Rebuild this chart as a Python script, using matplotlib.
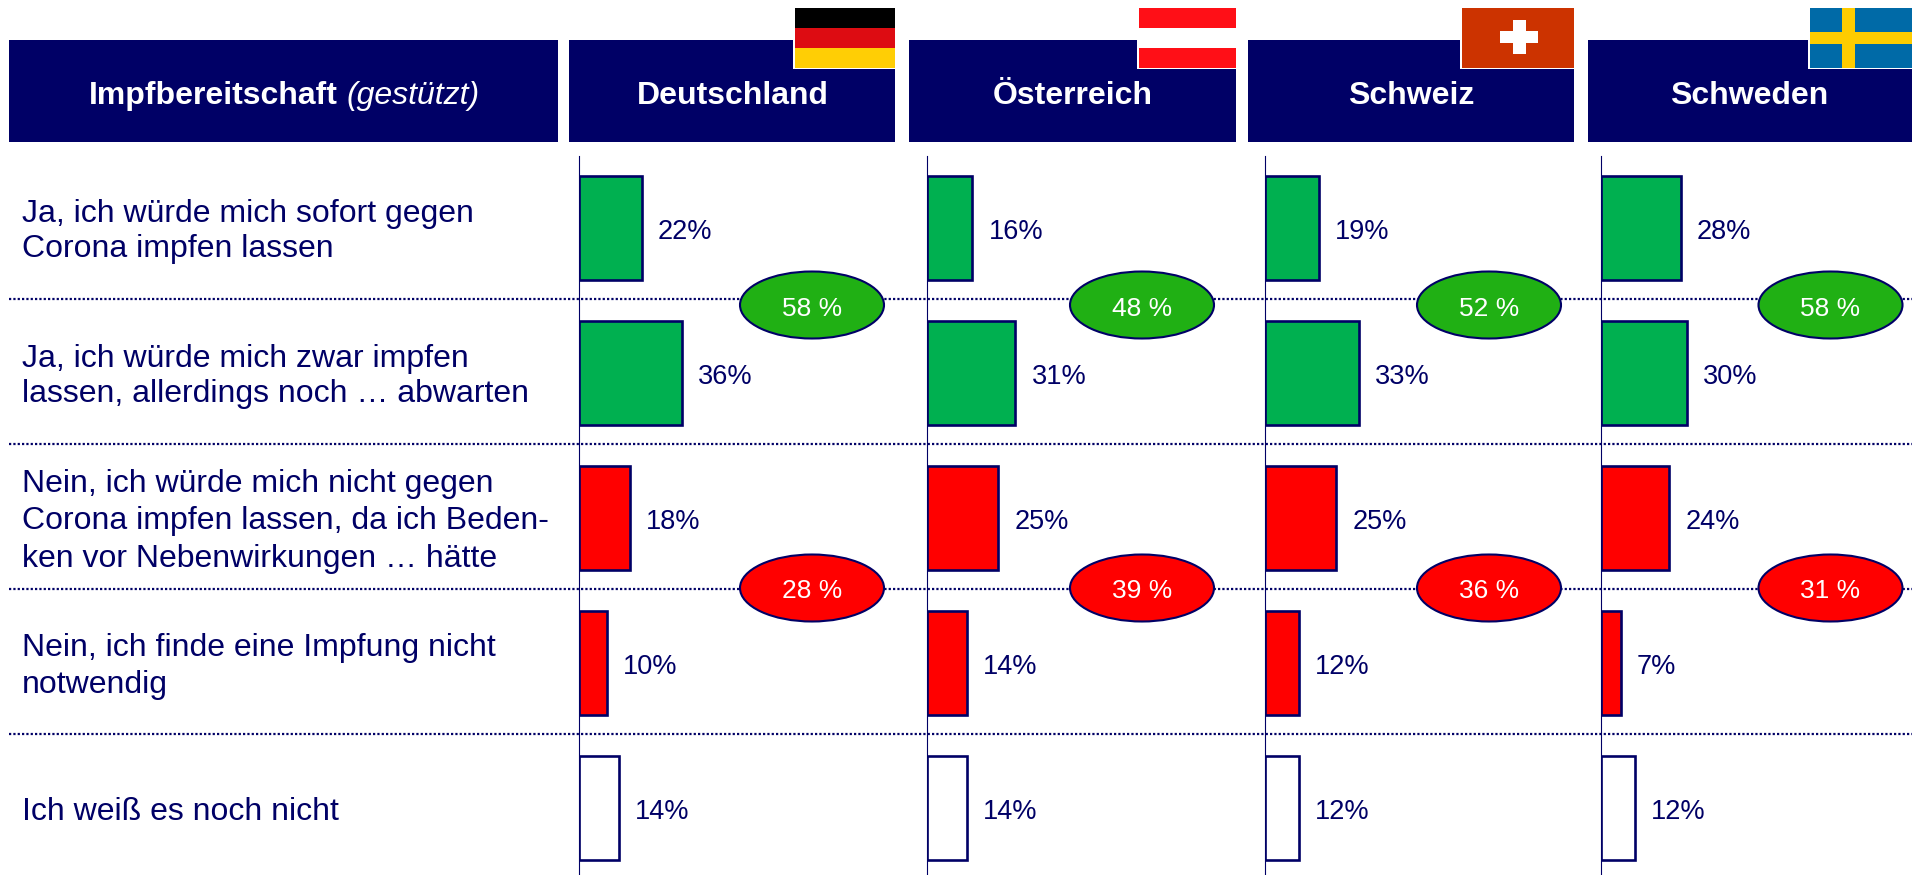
import matplotlib
matplotlib.use("Agg")
import matplotlib.pyplot as plt
from matplotlib.patches import Rectangle, Ellipse

plt.rcParams['font.family'] = ['Liberation Sans', 'DejaVu Sans']

countries = ["Deutschland", "Österreich", "Schweiz", "Schweden"]
answers = [
    "Ja, ich würde mich sofort gegen\nCorona impfen lassen",
    "Ja, ich würde mich zwar impfen\nlassen, allerdings noch … abwarten",
    "Nein, ich würde mich nicht gegen\nCorona impfen lassen, da ich Beden-\nken vor Nebenwirkungen … hätte",
    "Nein, ich finde eine Impfung nicht\nnotwendig",
    "Ich weiß es noch nicht",
]
values_de = [22, 36, 18, 10, 14]
values_at = [16, 31, 25, 14, 14]
values_ch = [19, 33, 25, 12, 12]
values_se = [28, 30, 24, 7, 12]
all_values = [values_de, values_at, values_ch, values_se]
yes_totals = [58, 48, 52, 58]
no_totals = [28, 39, 36, 31]

NAVY = "#000066"
W, H = 1912, 875
PX_PER_PCT = 2.87
ROW0, PITCH = 228, 145
axis_x = [578.5, 926.5, 1264.5, 1600.5]
bar_colors = ["#00B050", "#00B050", "#FF0000", "#FF0000", "white"]
line_spacings = [1.24, 1.24, 1.31, 1.33, 1.2]

fig = plt.figure(figsize=(W / 100, H / 100), dpi=100, facecolor="white")

# Bars, one axes per country
for x0, vals in zip(axis_x, all_values):
    ax_w = 300
    ax = fig.add_axes([x0 / W, 0, ax_w / W, (H - 156) / H])
    ax.patch.set_alpha(0)
    ax.set_xlim(0, ax_w / PX_PER_PCT)
    ax.set_ylim((H - ROW0) / PITCH, (156 - ROW0) / PITCH)
    bars = ax.barh(range(len(vals)), vals, height=104 / PITCH, color=bar_colors,
                   edgecolor=NAVY, linewidth=1.9)
    for bar, v in zip(bars, vals):
        ax.annotate(f"{v}%", (v, bar.get_y() + bar.get_height() / 2),
                    xytext=(11.5, -3), textcoords="offset points",
                    va="center", ha="left", fontsize=19.5, color=NAVY)
    for s in ["top", "right", "bottom"]:
        ax.spines[s].set_visible(False)
    ax.spines["left"].set_color(NAVY)
    ax.spines["left"].set_linewidth(0.8)
    ax.set_xticks([])
    ax.set_yticks([])

# Overlay in pixel coordinates
ov = fig.add_axes([0, 0, 1, 1], zorder=5)
ov.patch.set_alpha(0)
ov.set_xlim(0, W)
ov.set_ylim(H, 0)
ov.axis("off")

# Headers
header_boxes = [(569, 895.5), (909, 1236), (1248, 1574), (1588, 1912)]
ov.add_patch(Rectangle((9.5, 39.5), 548.5, 102, fc=NAVY, ec="none"))
t_y = 96
ov.text(89, t_y, "Impfbereitschaft", color="white", fontsize=23, fontweight="bold", va="center")
ov.text(347, t_y, "(gestützt)", color="white", fontsize=23, fontstyle="italic", va="center")
for (a, b), name in zip(header_boxes, countries):
    ov.add_patch(Rectangle((a, 39.5), b - a, 102, fc=NAVY, ec="none"))
    ov.text((a + b) / 2 + (0.5 if name != "Schweden" else -1), t_y, name, color="white",
            fontsize=23, fontweight="bold", ha="center", va="center")

# Flags
def stripes(x, w, cols):
    ov.add_patch(Rectangle((x - 2, 8), w + 2, 61, fc="white", ec="none"))
    h = 60 / len(cols)
    for i, c in enumerate(cols):
        ov.add_patch(Rectangle((x, 8 + i * h), w, h, fc=c, ec="none"))

stripes(795, 100.5, ["#000000", "#DD0C12", "#FFCE05"])
stripes(1139, 97, ["#FF0F17", "#FFFFFF", "#FF0F17"])
stripes(1462, 112, ["#CC3300"])
ov.add_patch(Rectangle((1513, 20), 13, 34, fc="white", ec="none"))
ov.add_patch(Rectangle((1500.5, 31), 38, 12, fc="white", ec="none"))
stripes(1810, 102, ["#006AA7"])
ov.add_patch(Rectangle((1842, 8), 13, 60, fc="#FECC00", ec="none"))
ov.add_patch(Rectangle((1810, 32), 102, 12, fc="#FECC00", ec="none"))

# Row labels
for i, (lab, ls) in enumerate(zip(answers, line_spacings)):
    ov.text(22, ROW0 + i * PITCH + 3.5, lab, color=NAVY, fontsize=23,
            va="center", ha="left", linespacing=ls)

# Dotted separators
for i in range(4):
    y = 299 + i * PITCH
    ov.plot([9, W], [y, y], color=NAVY, lw=1.6, ls=(0, (1, 0.95)), zorder=3)

# Ellipses
ell_x = [812, 1142, 1489, 1830.5]
for cx, yes, no in zip(ell_x, yes_totals, no_totals):
    for cy, col, val in [(305, "#20B014", yes), (588, "#FF0000", no)]:
        ov.add_patch(Ellipse((cx, cy), 144, 67, fc=col, ec=NAVY, lw=1.5, zorder=4))
        ov.text(cx, cy + 3.5, f"{val} %", color="white", fontsize=19, ha="center",
                va="center", zorder=5)

fig.savefig("out.png", dpi=100)
